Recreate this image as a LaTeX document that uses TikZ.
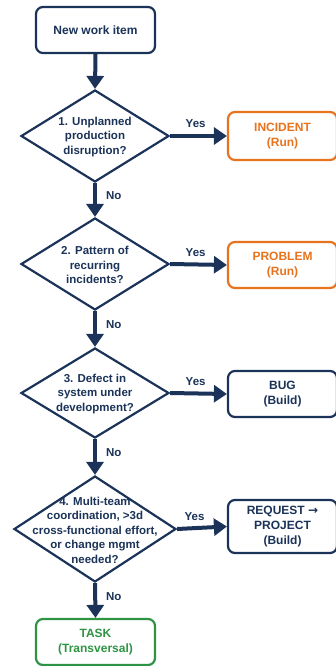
\documentclass[tikz,border=0pt]{standalone}
\usepackage{fontspec}
\setmainfont{Liberation Sans}
\newfontfamily\symfont{DejaVu Sans}
\usetikzlibrary{shapes.geometric,arrows.meta}
\definecolor{navy}{HTML}{1B3358}
\definecolor{runorange}{HTML}{E8731E}
\definecolor{taskgreen}{HTML}{2E9444}
\tikzset{
  box/.style={draw=navy, line width=2.2pt, rounded corners=7pt, fill=white, text=navy, align=center, inner sep=0pt, font=\fontsize{12}{15}\selectfont\bfseries},
  runbox/.style={box, draw=runorange, text=runorange},
  taskbox/.style={box, draw=taskgreen, text=taskgreen},
  dec/.style={draw=navy, line width=2.2pt, diamond, inner sep=0pt, fill=white},
  dectext/.style={text=navy, align=center, font=\fontsize{11.5}{14.5}\selectfont\bfseries},
  arr/.style={draw=navy, line width=4pt, -{Triangle[width=17pt,length=13pt]}},
  lbl/.style={text=navy, font=\fontsize{11.5}{13}\selectfont\bfseries, inner sep=0pt}
}
\begin{document}
\begin{tikzpicture}[x=1pt,y=-1pt]
\useasboundingbox (0,0) rectangle (335,666);
\node[box, minimum width=119pt, minimum height=46pt] (start) at (95.5,30) {New work item};
\node[dec, minimum width=148pt, minimum height=92pt] (d1) at (95,136) {};
\node[dectext] (t1) at (95,137) {1. Unplanned\\production\\disruption?};
\node[dec, minimum width=148pt, minimum height=92pt] (d2) at (95,264) {};
\node[dectext] (t2) at (95,265) {2. Pattern of\\recurring\\incidents?};
\node[dec, minimum width=148pt, minimum height=90pt] (d3) at (95,393) {};
\node[dectext] (t3) at (95,394) {3. Defect in\\system under\\development?};
\node[dec, minimum width=162pt, minimum height=106pt] (d4) at (95,529) {};
\node[dectext] (t4) at (95,530) {4. Multi-team\\coordination, >3d\\cross-functional effort,\\or change mgmt\\needed?};
\node[runbox, minimum width=109pt, minimum height=48pt] (inc) at (282.5,136) {INCIDENT\\(Run)};
\node[runbox, minimum width=109pt, minimum height=46pt] (prob) at (282.5,265) {PROBLEM\\(Run)};
\node[box, minimum width=109pt, minimum height=46pt] (bug) at (282.5,394) {BUG\\(Build)};
\node[box, minimum width=109pt, minimum height=53pt] (req) at (282.5,526.5) {REQUEST {\symfont\bfseries →}\\PROJECT\\(Build)};
\node[taskbox, minimum width=119pt, minimum height=46pt] (task) at (95.5,642) {TASK\\(Transversal)};
\draw[arr] (start.south) -- (d1.north);
\draw[arr] (d1.south) -- node[lbl, pos=0.38, right=9pt] (n1) {No} (d2.north);
\draw[arr] (d2.south) -- node[lbl, pos=0.38, right=9pt] (n2) {No} (d3.north);
\draw[arr] (d3.south) -- node[lbl, pos=0.38, right=9pt] (n3) {No} (d4.north);
\draw[arr] (d4.south) -- node[lbl, pos=0.38, right=9pt] (n4) {No} (task.north);
\draw[arr] (d1.east) -- node[lbl, pos=0.45, above=6pt] (y1) {Yes} (inc.west);
\draw[arr] (d2.east) -- node[lbl, pos=0.45, above=6pt] (y2) {Yes} (prob.west);
\draw[arr] (d3.east) -- node[lbl, pos=0.45, above=6pt] (y3) {Yes} (bug.west);
\draw[arr] (d4.east) -- node[lbl, pos=0.35, above=6pt] (y4) {Yes} (req.west);
\end{tikzpicture}
\end{document}
